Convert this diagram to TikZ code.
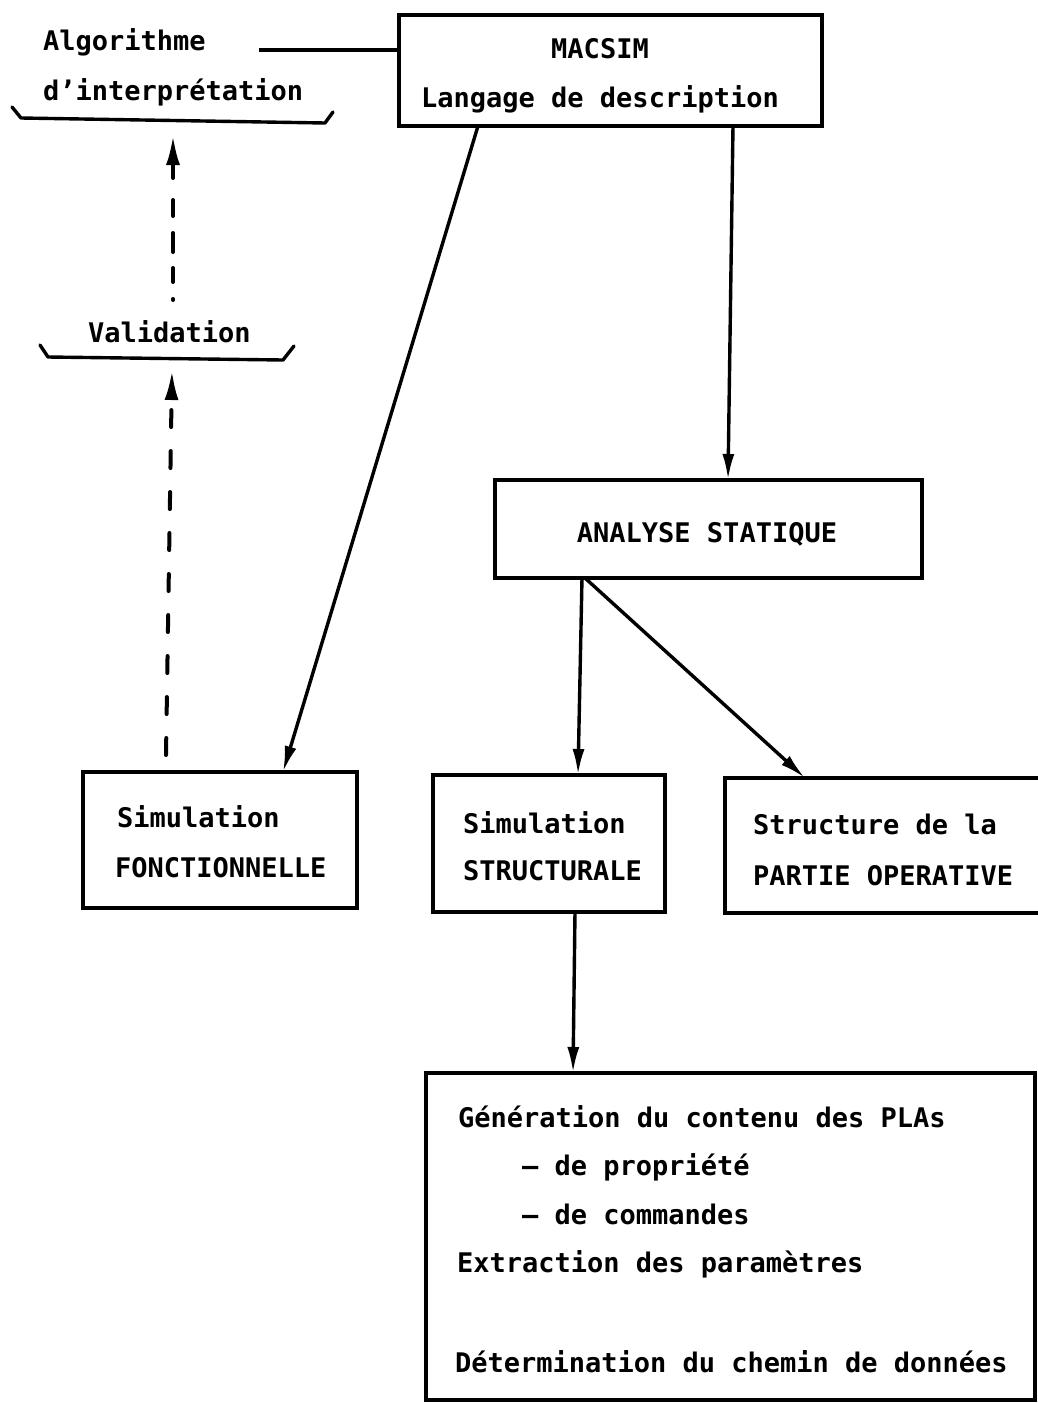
\documentclass[tikz,border=0pt]{standalone}
\usepackage{fontspec}
\setmainfont{DejaVu Sans Mono}
\usetikzlibrary{arrows.meta}
\begin{document}
\begin{tikzpicture}[x=1pt,y=-1pt,
  every node/.style={inner sep=0pt, outer sep=0pt},
  box/.style={draw, line width=3.6pt, anchor=north west},
  tx/.style={font=\fontsize{27}{49.5}\selectfont\bfseries, anchor=base west},
  link/.style={line width=3.4pt, -{Latex[length=26pt,width=12pt]}},
  plainline/.style={line width=3.2pt},
  dashlink/.style={line width=4pt, line cap=round, -{Latex[length=30pt,width=14pt]}},
  bracket/.style={line width=3.4pt, line join=round, line cap=round}]
\path[use as bounding box, clip] (0,0) rectangle (1038,1403);

% boxes
\node[box, minimum width=423pt, minimum height=111pt] (macsim) at (399,15) {};
\node[box, minimum width=427pt, minimum height=98pt] (analyse) at (495,480) {};
\node[box, minimum width=274pt, minimum height=136pt] (sf) at (83,772) {};
\node[box, minimum width=232pt, minimum height=137pt] (ss) at (433,775) {};
\node[box, minimum width=340pt, minimum height=135pt] (sp) at (725,778) {};
\node[box, minimum width=609pt, minimum height=327pt] (big) at (426,1073) {};

% texts
\node[tx, anchor=base] (m1) at (600,58) {MACSIM};
\node[tx, anchor=base] (m2) at (600,107) {Langage de description};
\node[tx] (alg1) at (43,50) {Algorithme};
\node[tx] (alg2) at (43,100) {d’interprétation};
\node[tx] (val) at (88,342) {Validation};
\node[tx, anchor=base] (an) at (707,542) {ANALYSE STATIQUE};
\node[tx] (sf1) at (117,827) {Simulation};
\node[tx] (sf2) at (115,877) {FONCTIONNELLE};
\node[tx] (ss1) at (463,833) {Simulation};
\node[tx] (ss2) at (463,880) {STRUCTURALE};
\node[tx] (sp1) at (753,834) {Structure de la};
\node[tx] (sp2) at (753,885) {PARTIE OPERATIVE};
\node[tx] (g1) at (458,1127) {Génération du contenu des PLAs};
\node[tx] (g2) at (522,1175) {– de propriété};
\node[tx] (g3) at (522,1224) {– de commandes};
\node[tx] (g4) at (457,1272) {Extraction des paramètres};
\node[tx] (g5) at (455,1372) {Détermination du chemin de données};

% brackets under the left labels
\draw[bracket] (12,107) -- (21,118) -- (325,123) -- (333,112);
\draw[bracket] (40,345) -- (48,357) -- (283,360) -- (294,346);

% dashed arrows
\coordinate (d1s) at (173,300);
\coordinate (d1e) at (173,135);
\draw[dashlink, dash pattern=on 1pt off 17pt on 14pt off 16pt on 19pt off 17pt on 16pt off 22pt on 80pt] (d1s) -- (d1e);
\coordinate (d2s) at (166,755);
\coordinate (d2e) at (172,370);
\draw[dashlink, dash pattern=on 17pt off 24pt] (d2s) -- (d2e);

% connectors
\draw[plainline] (alg1.base east) ++(53pt,0pt) coordinate (a0) -- (a0 -| macsim.west);
\draw[link] ([xshift=79pt]macsim.south west) -- ([xshift=200pt]sf.north west);
\draw[link] ([xshift=334pt]macsim.south west) -- ([xshift=233pt]analyse.north west);
\draw[link] ([xshift=87pt]analyse.south west) -- ([xshift=145pt]ss.north west);
\draw[link] ([xshift=90pt]analyse.south west) -- ([xshift=80pt]sp.north west);
\draw[link] ([xshift=142pt]ss.south west) -- ([xshift=147pt]big.north west);
\end{tikzpicture}
\end{document}
